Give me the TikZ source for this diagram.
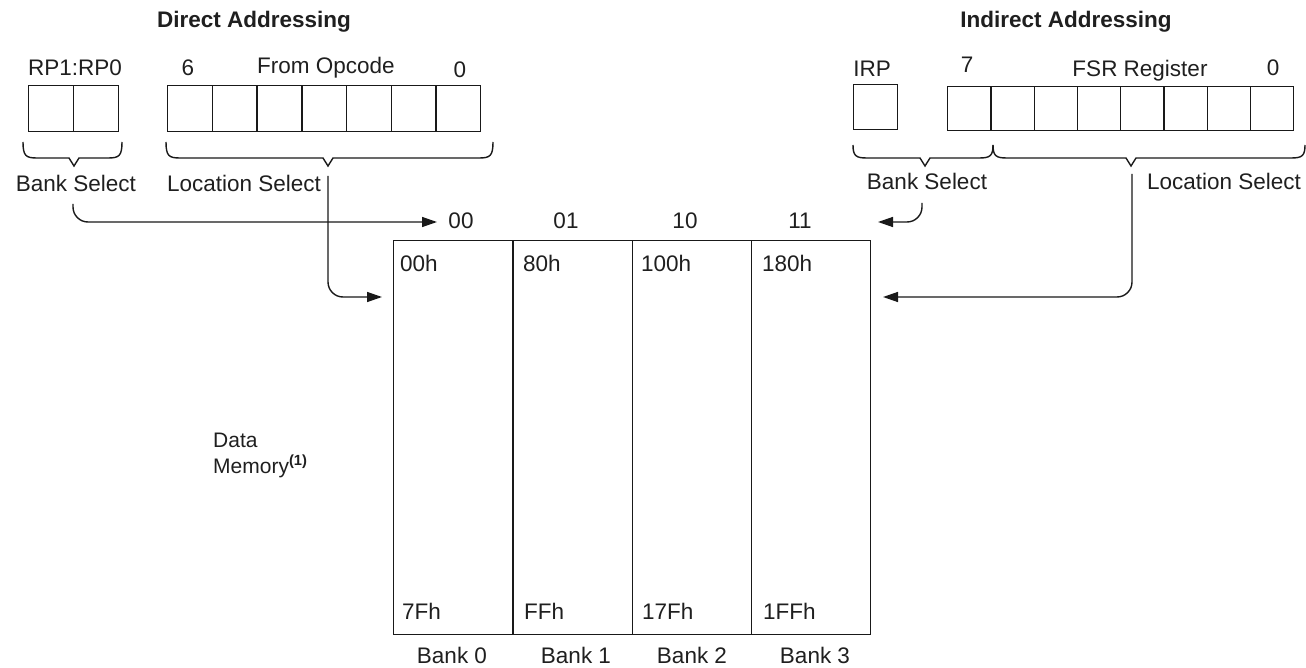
\documentclass[tikz,border=0pt]{standalone}
\usepackage{fontspec}
\setmainfont{Liberation Sans}
\usetikzlibrary{arrows.meta}
\newcommand\mybrace[5]{% x1, x2, xm, ytop, ybot
  \draw[lw] (#1,#4) .. controls (#1,#5-2) and (#1+3,#5) .. (#1+14,#5) -- (#3-5,#5) -- (#3,#5+8) -- (#3+5,#5) -- (#2-14,#5) .. controls (#2-3,#5) and (#2,#5-2) .. (#2,#4);}
\begin{document}
\begin{tikzpicture}[x=1pt,y=-1pt,
  lw/.style={line width=1.4pt, draw=black!90},
  txt/.style={font=\fontsize{22.5}{27}\selectfont, inner sep=0pt, text=black!88},
  ttl/.style={font=\fontsize{22.5}{27}\selectfont\bfseries, inner sep=0pt, text=black!88},
  cell/.style={draw, lw, minimum height=#1, inner sep=0pt, anchor=north west},
  arr/.style={lw, -{Triangle[length=15pt,width=10pt]}, rounded corners=15pt}
]
\useasboundingbox (0,0) rectangle (1306,668);

% titles
\node[ttl, anchor=base] (tdir) at (254,28) {Direct Addressing};
\node[ttl, anchor=base] (tind) at (1066,28) {Indirect Addressing};

% register labels
\node[txt, anchor=base] (lrp) at (75,76) {RP1:RP0};
\node[txt, anchor=base] (l6) at (188,76) {6};
\node[txt, anchor=base] (lop) at (326,74) {From Opcode};
\node[txt, anchor=base] (l0a) at (460,78) {0};
\node[txt, anchor=base] (lirp) at (872,77) {IRP};
\node[txt, anchor=base] (l7) at (967,73) {7};
\node[txt, anchor=base] (lfsr) at (1140,77) {FSR Register};
\node[txt, anchor=base] (l0b) at (1273,76) {0};

% register cells
\foreach \i in {0,1} \node[cell=46pt, minimum width=45pt] (rp\i) at ({28+\i*45},85) {};
\foreach \i in {0,...,6} \node[cell=46pt, minimum width=44.71pt] (op\i) at ({167+\i*44.71},85) {};
\node[cell=45pt, minimum width=44pt] (irp) at (853,84) {};
\foreach \i in {0,...,7} \node[cell=44pt, minimum width=43.25pt] (fsr\i) at ({947+\i*43.25},86) {};

% braces
\mybrace{23}{122}{74}{142}{158}
\mybrace{166}{493}{328}{142}{158}
\mybrace{853}{993}{925}{145}{158}
\mybrace{993}{1305}{1131}{145}{158}

% brace labels
\node[txt, anchor=base] (bsd) at (76,192) {Bank Select};
\node[txt, anchor=base] (lsd) at (244,192) {Location Select};
\node[txt, anchor=base] (bsi) at (927,190) {Bank Select};
\node[txt, anchor=base] (lsi) at (1224,190) {Location Select};

% memory banks
\foreach \i in {0,...,3}
  \node[cell=394pt, minimum width=119.25pt] (bank\i) at ({393+\i*119.25},240) {};

% bank select codes
\node[txt, anchor=base] (c00) at (461,229) {00};
\node[txt, anchor=base] (c01) at (566,229) {01};
\node[txt, anchor=base] (c10) at (685,229) {10};
\node[txt, anchor=base] (c11) at (800,229) {11};

% addresses
\node[txt, anchor=base west] (s0) at (400,272) {00h};
\node[txt, anchor=base west] (s1) at (523,272) {80h};
\node[txt, anchor=base west] (s2) at (641,272) {100h};
\node[txt, anchor=base west] (s3) at (762,272) {180h};
\node[txt, anchor=base west] (e0) at (402,619) {7Fh};
\node[txt, anchor=base west] (e1) at (524,619) {FFh};
\node[txt, anchor=base west] (e2) at (642,619) {17Fh};
\node[txt, anchor=base west] (e3) at (763,619) {1FFh};

% bank names
\node[txt, anchor=base] (n0) at (452,663) {Bank 0};
\node[txt, anchor=base] (n1) at (576,663) {Bank 1};
\node[txt, anchor=base] (n2) at (692,663) {Bank 2};
\node[txt, anchor=base] (n3) at (815,663) {Bank 3};

% data memory
\node[inner sep=0pt, anchor=base west, text=black!88, font=\fontsize{21}{26}\selectfont] (dm) at (213,447)
  {\begin{tabular}[t]{@{}l@{}}Data\\Memory\textsuperscript{\bfseries(1)}\end{tabular}};

% connectors
\coordinate (a1s) at (73,204); \coordinate (a1e) at (437,222);
\coordinate (a2s) at (328,176); \coordinate (a2e) at (382,297);
\coordinate (a3s) at (922,203); \coordinate (a3e) at (878,222);
\coordinate (a4s) at (1132,174); \coordinate (a4e) at (883,297);
\draw[arr] (a1s) |- (a1e);
\draw[arr] (a2s) |- (a2e);
\draw[arr] (a3s) |- (a3e);
\draw[arr] (a4s) |- (a4e);
\end{tikzpicture}
\end{document}
